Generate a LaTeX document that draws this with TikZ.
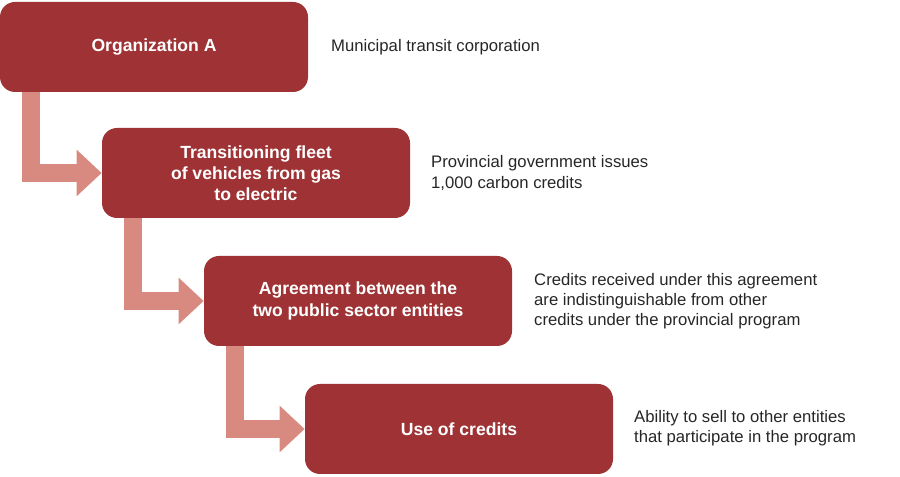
\documentclass[tikz,border=0pt]{standalone}
\usepackage{fontspec}
\setmainfont{Liberation Sans}
\usetikzlibrary{positioning, arrows.meta}
\definecolor{boxred}{HTML}{9E3234}
\definecolor{flowpink}{HTML}{D98A80}
\begin{document}
\begin{tikzpicture}[
    box/.style={rectangle, rounded corners=0.3cm, fill=boxred, minimum width=6.16cm, minimum height=1.8cm, align=center, text=white, font=\fontsize{10}{12}\selectfont\bfseries},
    note/.style={anchor=west, align=left, font=\fontsize{9.5}{11.5}\selectfont, text=black!85},
    flow/.style={-{Triangle[length=0.5cm, width=0.9cm]}, line width=0.36cm, flowpink}
]
    \useasboundingbox (0,0) rectangle (18,-9.54);

    \node[box] (org) at (3.08,-0.94) {Organization A};
    \node[box] (fleet) at (5.12,-3.46) {Transitioning fleet\\of vehicles from gas\\to electric};
    \node[box] (agree) at (7.16,-6.02) {Agreement between the\\two public sector entities};
    \node[box] (use) at (9.18,-8.58) {Use of credits};

    % Arrows
    \draw[flow] ([xshift=0.62cm]org.south west) |- (fleet.west);
    \draw[flow] ([xshift=0.62cm]fleet.south west) |- (agree.west);
    \draw[flow] ([xshift=0.62cm]agree.south west) |- (use.west);

    % Notes
    \node[note] (orgnote) at (6.5,-0.94) {Municipal transit corporation};
    \node[note] (fleetnote) at (8.5,-3.46) {Provincial government issues\\1,000 carbon credits};
    \node[note] (agreenote) at (10.56,-6.02) {Credits received under this agreement\\are indistinguishable from other\\credits under the provincial program};
    \node[note] (usenote) at (12.56,-8.56) {Ability to sell to other entities\\that participate in the program};
\end{tikzpicture}
\end{document}
